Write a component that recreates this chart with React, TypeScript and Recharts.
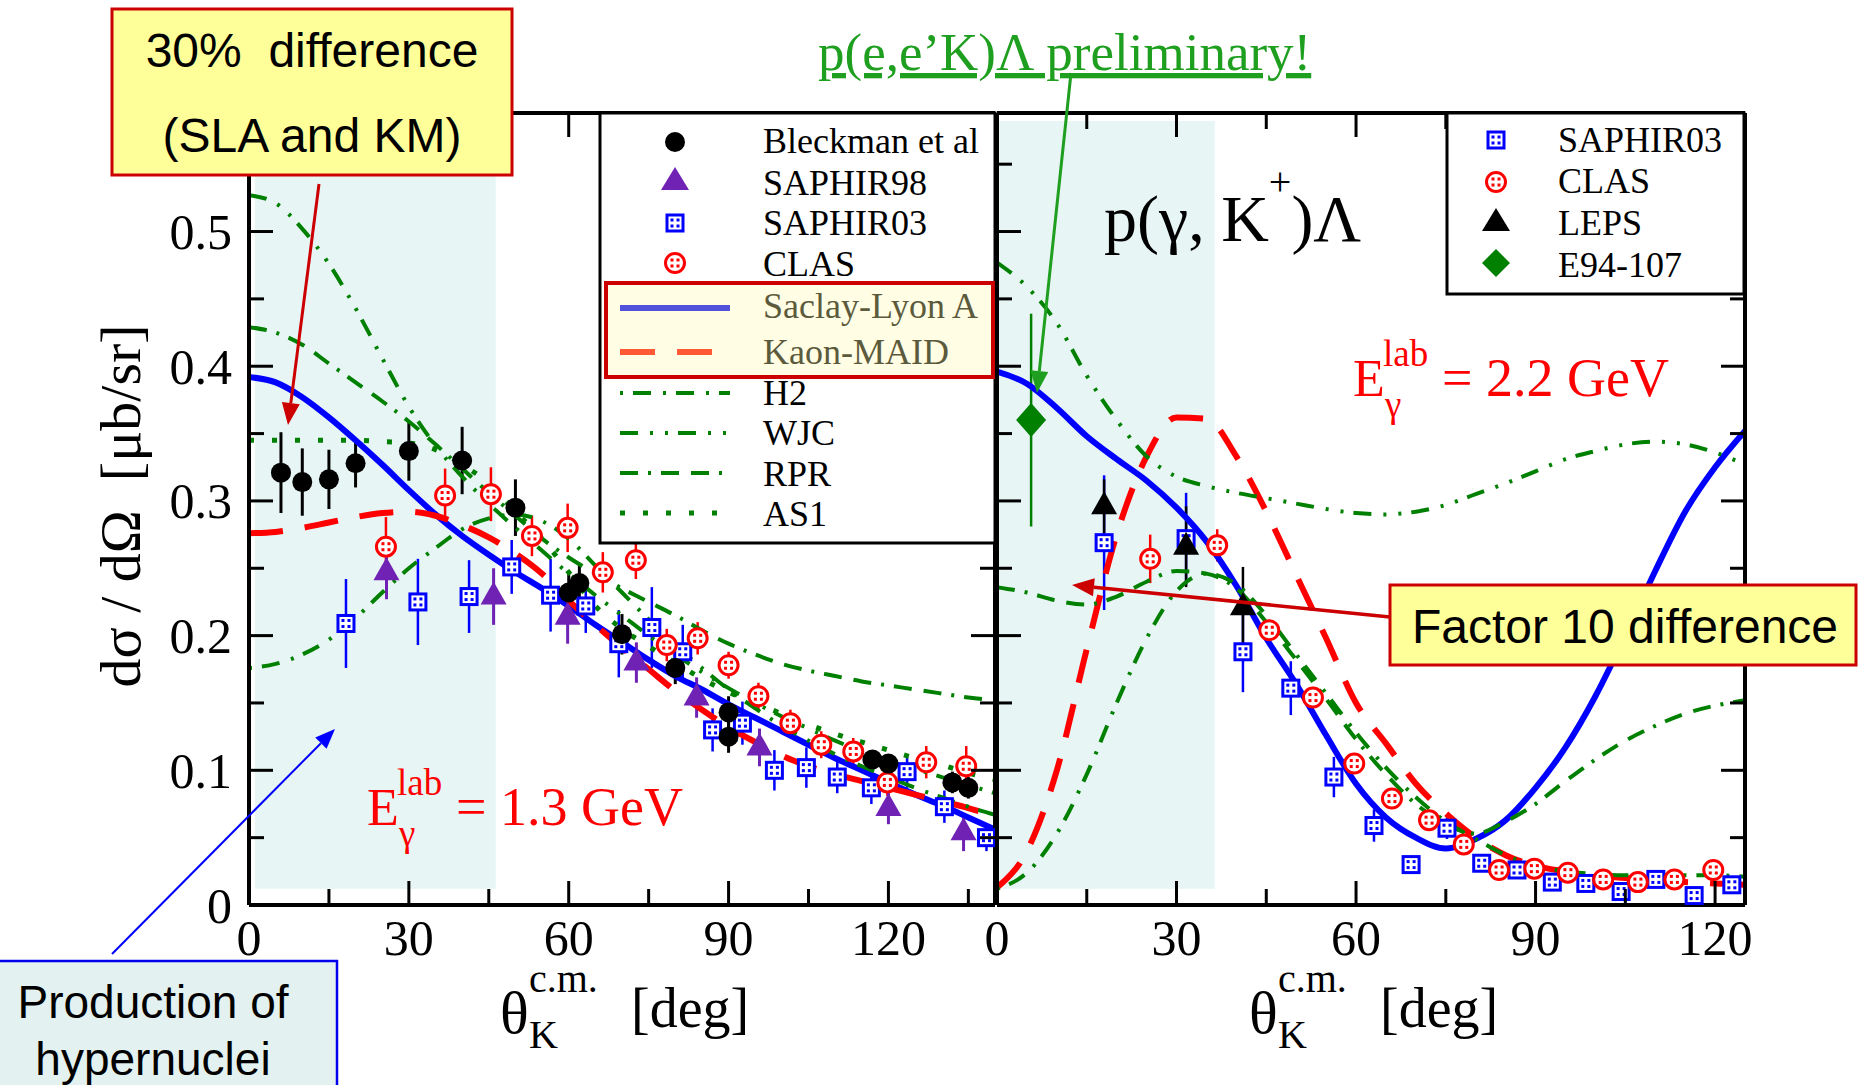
import React from 'react';
import { ComposedChart, Line, Scatter, XAxis, YAxis, ErrorBar, ReferenceArea } from 'recharts';

const SERIF = 'Liberation Serif, Times New Roman, serif';
const SANS = 'Liberation Sans, Arial, sans-serif';

// ---- axes
const Y_TICKS = [0, 0.05, 0.1, 0.15, 0.2, 0.25, 0.3, 0.35, 0.4, 0.45, 0.5, 0.55];
const Y_LABELS = ['0', '0.1', '0.2', '0.3', '0.4', '0.5'];
const X_TICKS_L = [0, 15, 30, 45, 60, 75, 90, 105, 120, 135];
const X_TICKS_R = [0, 15, 30, 45, 60, 75, 90, 105, 120];
const X_LABELS = ['0', '30', '60', '90', '120'];

// ---- left panel, E = 1.3 GeV, model curves
const THETA_L = [0, 5, 10, 15, 20, 25, 30, 35, 40, 45, 50, 55, 60, 65, 70, 75, 80, 85, 90, 95, 100, 105, 110, 115, 120, 125, 130, 135, 140];
const SLA_L = [0.392, 0.388, 0.377, 0.362, 0.345, 0.327, 0.308, 0.29, 0.274, 0.26, 0.247, 0.235, 0.222, 0.208, 0.195, 0.182, 0.17, 0.16, 0.149, 0.139, 0.129, 0.119, 0.109, 0.1, 0.091, 0.082, 0.074, 0.065, 0.056];
const KM_L = [0.276, 0.277, 0.28, 0.284, 0.288, 0.291, 0.292, 0.289, 0.282, 0.273, 0.261, 0.246, 0.226, 0.208, 0.191, 0.175, 0.159, 0.145, 0.132, 0.121, 0.111, 0.103, 0.097, 0.092, 0.087, 0.082, 0.077, 0.072, 0.066];
const H2_L = [0.176, 0.179, 0.186, 0.197, 0.213, 0.232, 0.25, 0.265, 0.279, 0.287, 0.29, 0.285, 0.272, 0.252, 0.232, 0.212, 0.193, 0.176, 0.16, 0.146, 0.133, 0.122, 0.112, 0.103, 0.095, 0.087, 0.08, 0.073, 0.067];
const WJC_L = [0.527, 0.521, 0.502, 0.476, 0.443, 0.406, 0.37, 0.341, 0.318, 0.298, 0.28, 0.263, 0.246, 0.23, 0.215, 0.2, 0.186, 0.173, 0.161, 0.15, 0.14, 0.131, 0.122, 0.114, 0.107, 0.101, 0.095, 0.089, 0.083];
const RPR_L = [0.429, 0.425, 0.416, 0.402, 0.388, 0.374, 0.359, 0.342, 0.324, 0.306, 0.289, 0.272, 0.258, 0.246, 0.235, 0.225, 0.215, 0.204, 0.194, 0.186, 0.179, 0.174, 0.17, 0.166, 0.163, 0.16, 0.157, 0.154, 0.152];
const AS1_L = [0.345, 0.345, 0.345, 0.345, 0.345, 0.344, 0.343, 0.338, 0.327, 0.313, 0.292, 0.272, 0.247, 0.222, 0.205, 0.192, 0.18, 0.168, 0.158, 0.15, 0.142, 0.134, 0.127, 0.121, 0.115, 0.109, 0.104, 0.098, 0.093];

// ---- left panel data
const BLECK_T = [6, 10, 15, 20, 30, 40, 50, 60, 62, 70, 80, 90, 90, 117, 120, 132, 135];
const BLECK_V = [0.321, 0.314, 0.316, 0.328, 0.337, 0.33, 0.295, 0.232, 0.239, 0.201, 0.176, 0.143, 0.125, 0.108, 0.105, 0.091, 0.087];
const BLECK_E = [0.03, 0.025, 0.022, 0.018, 0.022, 0.025, 0.021, 0.015, 0.015, 0.015, 0.012, 0.012, 0.012, 0.006, 0.006, 0.008, 0.008];
const S98_T = [25.8, 45.9, 59.8, 72.7, 84, 95.8, 120, 134.1];
const S98_V = [0.247, 0.229, 0.214, 0.18, 0.154, 0.117, 0.072, 0.054];
const S98_E = [0.02, 0.021, 0.02, 0.015, 0.015, 0.014, 0.012, 0.014];
const S03L_T = [18.2, 31.7, 41.3, 49.3, 56.6, 63.2, 69.4, 75.6, 81.4, 87, 92.6, 98.6, 104.6, 110.4, 116.8, 123.5, 130.5, 138.4];
const S03L_V = [0.209, 0.225, 0.229, 0.251, 0.23, 0.222, 0.194, 0.206, 0.188, 0.13, 0.135, 0.1, 0.102, 0.095, 0.087, 0.099, 0.073, 0.05];
const S03L_E = [0.033, 0.032, 0.027, 0.02, 0.027, 0.02, 0.025, 0.03, 0.02, 0.016, 0.016, 0.015, 0.015, 0.012, 0.012, 0.012, 0.012, 0.01];
const CLASL_T = [25.7, 36.8, 45.4, 53.1, 59.8, 66.4, 72.6, 78.4, 84.2, 90, 95.6, 101.6, 107.4, 113.4, 119.8, 127.1, 134.6];
const CLASL_V = [0.266, 0.304, 0.305, 0.274, 0.28, 0.247, 0.256, 0.193, 0.198, 0.178, 0.155, 0.135, 0.119, 0.114, 0.091, 0.106, 0.103];
const CLASL_E = [0.022, 0.02, 0.02, 0.015, 0.018, 0.015, 0.014, 0.012, 0.012, 0.01, 0.01, 0.01, 0.01, 0.01, 0.01, 0.012, 0.015];

// ---- right panel, E = 2.2 GeV, model curves
const THETA_R = [0, 5, 10, 15, 20, 25, 30, 35, 40, 45, 50, 55, 60, 65, 70, 75, 80, 85, 90, 95, 100, 105, 110, 115, 120, 125];
const SLA_R = [0.396, 0.387, 0.369, 0.348, 0.331, 0.315, 0.295, 0.27, 0.237, 0.198, 0.164, 0.126, 0.09, 0.065, 0.05, 0.042, 0.049, 0.063, 0.087, 0.117, 0.155, 0.2, 0.248, 0.292, 0.325, 0.352];
const KM_R = [0.013, 0.04, 0.1, 0.19, 0.275, 0.333, 0.362, 0.361, 0.333, 0.292, 0.245, 0.198, 0.15, 0.12, 0.09, 0.068, 0.05, 0.037, 0.029, 0.025, 0.022, 0.02, 0.018, 0.017, 0.016, 0.015];
const H2_R = [0.012, 0.024, 0.053, 0.097, 0.15, 0.198, 0.233, 0.246, 0.238, 0.215, 0.186, 0.157, 0.128, 0.102, 0.08, 0.062, 0.049, 0.037, 0.029, 0.025, 0.023, 0.022, 0.022, 0.022, 0.022, 0.021];
const WJC_R = [0.477, 0.459, 0.432, 0.393, 0.36, 0.333, 0.318, 0.311, 0.306, 0.302, 0.298, 0.294, 0.291, 0.29, 0.292, 0.297, 0.305, 0.313, 0.322, 0.331, 0.337, 0.342, 0.344, 0.342, 0.336, 0.327];
const RPR_R = [0.236, 0.232, 0.226, 0.223, 0.229, 0.24, 0.248, 0.246, 0.235, 0.21, 0.182, 0.153, 0.123, 0.097, 0.075, 0.06, 0.053, 0.062, 0.075, 0.092, 0.108, 0.122, 0.133, 0.142, 0.148, 0.152];

// ---- right panel data
const S03R_T = [17.9, 31.6, 41.1, 49.1, 56.3, 63, 69.2, 75.2, 81, 86.9, 92.8, 98.4, 104.3, 110.1, 116.5, 122.8];
const S03R_V = [0.269, 0.272, 0.188, 0.161, 0.095, 0.059, 0.03, 0.057, 0.031, 0.026, 0.017, 0.016, 0.01, 0.019, 0.007, 0.015];
const S03R_E = [0.05, 0.034, 0.03, 0.02, 0.015, 0.012, 0.004, 0.008, 0.005, 0.005, 0.004, 0.004, 0.004, 0.004, 0.004, 0.004];
const CLASR_T = [25.6, 36.8, 45.5, 52.8, 59.7, 66, 72.2, 78, 83.9, 89.8, 95.4, 101.3, 107.1, 113.2, 119.7];
const CLASR_V = [0.257, 0.267, 0.204, 0.154, 0.105, 0.079, 0.063, 0.045, 0.026, 0.027, 0.024, 0.019, 0.017, 0.019, 0.026];
const CLASR_E = [0.018, 0.012, 0.006, 0.006, 0.005, 0.004, 0.004, 0.004, 0.003, 0.003, 0.003, 0.003, 0.003, 0.003, 0.003];
const LEPS_T = [17.9, 31.6, 41.1];
const LEPS_V = [0.296, 0.266, 0.221];
const LEPS_E = [0.02, 0.03, 0.03];
const E94_T = [5.7];
const E94_V = [0.36];
const E94_E = [0.079];

const curve = (t: number[], v: number[]) => t.map((x, i) => ({ x, y: v[i] }));
const pts = (t: number[], v: number[], e: number[]) => t.map((x, i) => ({ x, y: v[i], err: e[i] }));

const GREEN = '#008000';
const GW = 4;
const H2_DASH = '3 10 18 12';
const WJC_DASH = '18 12 3 12 3 10';
const RPR_DASH = '18 10 3 10 18 12';
const AS1_DASH = '5 18';

// ---- marker shapes
const blackDot = (p: any) => <circle cx={p.cx} cy={p.cy} r={10} fill="#000" />;
const triangle = (fill: string) => (p: any) => (
  <polygon points={`${p.cx},${p.cy - 15} ${p.cx + 13},${p.cy + 8} ${p.cx - 13},${p.cy + 8}`} fill={fill} />
);
const sapSquare = (p: any) => (
  <g>
    <rect x={p.cx - 8} y={p.cy - 8} width={16} height={16} fill="#fff" stroke="#0000ff" strokeWidth={3} />
    <rect x={p.cx - 4.5} y={p.cy - 4.5} width={3} height={3} fill="#0000ff" />
    <rect x={p.cx + 1.5} y={p.cy - 4.5} width={3} height={3} fill="#0000ff" />
    <rect x={p.cx - 4.5} y={p.cy + 1.5} width={3} height={3} fill="#0000ff" />
    <rect x={p.cx + 1.5} y={p.cy + 1.5} width={3} height={3} fill="#0000ff" />
  </g>
);
const clasCircle = (p: any) => (
  <g>
    <circle cx={p.cx} cy={p.cy} r={9.5} fill="#fff" stroke="#ff0000" strokeWidth={3} />
    <rect x={p.cx - 4.5} y={p.cy - 4.5} width={3} height={3} fill="#ff0000" />
    <rect x={p.cx + 1.5} y={p.cy - 4.5} width={3} height={3} fill="#ff0000" />
    <rect x={p.cx - 4.5} y={p.cy + 1.5} width={3} height={3} fill="#ff0000" />
    <rect x={p.cx + 1.5} y={p.cy + 1.5} width={3} height={3} fill="#ff0000" />
  </g>
);
const diamond = (p: any) => (
  <polygon points={`${p.cx},${p.cy - 17} ${p.cx + 15},${p.cy} ${p.cx},${p.cy + 17} ${p.cx - 15},${p.cy}`} fill={GREEN} />
);

// ---- inward ticks
const yTick = (dir: number, showLabel: boolean) => (p: any) => {
  const v = p.payload.value as number;
  const major = Math.round(v * 100) % 10 === 0;
  return (
    <g>
      <line x1={p.x} x2={p.x + dir * (major ? 24 : 15)} y1={p.y} y2={p.y} stroke="#000" strokeWidth={3} />
      {showLabel && major && (
        <text x={p.x - 17} y={p.y} dy="0.35em" textAnchor="end" fontSize={50} fontFamily={SERIF} fill="#000">
          {Y_LABELS[Math.round(v * 10)]}
        </text>
      )}
    </g>
  );
};
const xTick = (dir: number, showLabel: boolean) => (p: any) => {
  const v = p.payload.value as number;
  const major = v % 30 === 0;
  return (
    <g>
      <line x1={p.x} x2={p.x} y1={p.y} y2={p.y + dir * (major ? 24 : 16)} stroke="#000" strokeWidth={3} />
      {showLabel && major && (
        <text x={p.x} y={p.y + 50} textAnchor="middle" fontSize={50} fontFamily={SERIF} fill="#000">
          {X_LABELS[v / 30]}
        </text>
      )}
    </g>
  );
};

const AX = { stroke: '#000', strokeWidth: 4 };
const Y_DOMAIN: [number, number] = [0, 0.588];

const Arrow = ({ x1, y1, x2, y2, color, w, head = 22, hw = 9 }: any) => {
  const dx = x2 - x1;
  const dy = y2 - y1;
  const L = Math.hypot(dx, dy);
  const ux = dx / L;
  const uy = dy / L;
  const bx = x2 - ux * head;
  const by = y2 - uy * head;
  return (
    <g>
      <line x1={x1} y1={y1} x2={bx} y2={by} stroke={color} strokeWidth={w} />
      <polygon points={`${x2},${y2} ${bx - uy * hw},${by + ux * hw} ${bx + uy * hw},${by - ux * hw}`} fill={color} />
    </g>
  );
};

const XTitle = ({ x }: { x: number }) => (
  <text x={x} y={1033} fontSize={60} fontFamily={SERIF} fill="#000">
    θ
    <tspan x={x + 29} y={992} fontSize={40}>c.m.</tspan>
    <tspan x={x + 29} y={1048} fontSize={40}>K</tspan>
    <tspan x={x + 131} y={1027} fontSize={56}>[deg]</tspan>
  </text>
);

const Energy = ({ x, y, label }: { x: number; y: number; label: string }) => (
  <text x={x} y={y} fontSize={52} fontFamily={SERIF} fill="#ff0000">
    E
    <tspan x={x + 30} y={y - 30} fontSize={37}>lab</tspan>
    <tspan x={x + 32} y={y + 21} fontSize={37}>γ</tspan>
    <tspan x={x + 89} y={y} fontSize={54}>{label}</tspan>
  </text>
);

export default function App() {
  return (
    <div style={{ position: 'fixed', left: 0, top: 0, width: 1858, height: 1085, background: '#fff', overflow: 'hidden' }}>
      {/* left panel */}
      <div style={{ position: 'absolute', left: 0, top: 0 }}>
        <ComposedChart width={1000} height={1085} margin={{ top: 0, right: 0, bottom: 0, left: 0 }}>
          <XAxis xAxisId={0} dataKey="x" type="number" domain={[0, 140]} allowDataOverflow ticks={X_TICKS_L} interval={0} height={180} tickSize={0} tickMargin={0} tickLine={false} axisLine={AX} tick={xTick(-1, true)} />
          <XAxis xAxisId="top" orientation="top" dataKey="x" type="number" domain={[0, 140]} allowDataOverflow ticks={X_TICKS_L} interval={0} height={113} tickSize={0} tickMargin={0} tickLine={false} axisLine={AX} tick={xTick(1, false)} />
          <YAxis yAxisId={0} dataKey="y" type="number" domain={Y_DOMAIN} allowDataOverflow ticks={Y_TICKS} interval={0} width={249} tickSize={0} tickMargin={0} tickLine={false} axisLine={AX} tick={yTick(1, true)} />
          <YAxis yAxisId="r" orientation="right" dataKey="y" type="number" domain={Y_DOMAIN} allowDataOverflow ticks={Y_TICKS} interval={0} width={5} tickSize={0} tickMargin={0} tickLine={false} axisLine={AX} tick={yTick(-1, false)} />
          <ReferenceArea x1={1.1} x2={46.3} y1={0.012} y2={0.582} fill="#e8f5f5" fillOpacity={1} stroke="none" />
          <Scatter data={pts(S03L_T, S03L_V, S03L_E)} shape={sapSquare} isAnimationActive={false}>
            <ErrorBar dataKey="err" direction="y" width={0} stroke="#0000ff" strokeWidth={2.5} isAnimationActive={false} />
          </Scatter>
          <Scatter data={pts(CLASL_T, CLASL_V, CLASL_E)} shape={clasCircle} isAnimationActive={false}>
            <ErrorBar dataKey="err" direction="y" width={0} stroke="#ff0000" strokeWidth={2.5} isAnimationActive={false} />
          </Scatter>
          <Scatter data={pts(S98_T, S98_V, S98_E)} shape={triangle('#7022b4')} isAnimationActive={false}>
            <ErrorBar dataKey="err" direction="y" width={0} stroke="#7022b4" strokeWidth={3} isAnimationActive={false} />
          </Scatter>
          <Scatter data={pts(BLECK_T, BLECK_V, BLECK_E)} shape={blackDot} isAnimationActive={false}>
            <ErrorBar dataKey="err" direction="y" width={0} stroke="#000" strokeWidth={3} isAnimationActive={false} />
          </Scatter>
          <Line data={curve(THETA_L, SLA_L)} dataKey="y" type="monotone" dot={false} stroke="#0000ff" strokeWidth={6} isAnimationActive={false} />
          <Line data={curve(THETA_L, KM_L)} dataKey="y" type="monotone" dot={false} stroke="#ff0000" strokeWidth={6} strokeDasharray="34 22" isAnimationActive={false} />
          <Line data={curve(THETA_L, H2_L)} dataKey="y" type="monotone" dot={false} stroke={GREEN} strokeWidth={GW} strokeDasharray={H2_DASH} isAnimationActive={false} />
          <Line data={curve(THETA_L, WJC_L)} dataKey="y" type="monotone" dot={false} stroke={GREEN} strokeWidth={GW} strokeDasharray={WJC_DASH} isAnimationActive={false} />
          <Line data={curve(THETA_L, RPR_L)} dataKey="y" type="monotone" dot={false} stroke={GREEN} strokeWidth={GW} strokeDasharray={RPR_DASH} isAnimationActive={false} />
          <Line data={curve(THETA_L, AS1_L)} dataKey="y" type="monotone" dot={false} stroke={GREEN} strokeWidth={5} strokeDasharray={AS1_DASH} isAnimationActive={false} />
        </ComposedChart>
      </div>

      {/* right panel */}
      <div style={{ position: 'absolute', left: 897, top: 0 }}>
        <ComposedChart width={961} height={1085} margin={{ top: 0, right: 0, bottom: 0, left: 0 }}>
          <XAxis xAxisId={0} dataKey="x" type="number" domain={[0, 125]} allowDataOverflow ticks={X_TICKS_R} interval={0} height={180} tickSize={0} tickMargin={0} tickLine={false} axisLine={AX} tick={xTick(-1, true)} />
          <XAxis xAxisId="top" orientation="top" dataKey="x" type="number" domain={[0, 125]} allowDataOverflow ticks={X_TICKS_R} interval={0} height={113} tickSize={0} tickMargin={0} tickLine={false} axisLine={AX} tick={xTick(1, false)} />
          <YAxis yAxisId={0} dataKey="y" type="number" domain={Y_DOMAIN} allowDataOverflow ticks={Y_TICKS} interval={0} width={100} tickSize={0} tickMargin={0} tickLine={false} axisLine={AX} tick={yTick(1, false)} />
          <YAxis yAxisId="r" orientation="right" dataKey="y" type="number" domain={Y_DOMAIN} allowDataOverflow ticks={Y_TICKS} interval={0} width={113} tickSize={0} tickMargin={0} tickLine={false} axisLine={AX} tick={yTick(-1, false)} />
          <ReferenceArea x1={0.2} x2={36.4} y1={0.012} y2={0.582} fill="#e8f5f5" fillOpacity={1} stroke="none" />
          <Scatter data={pts(S03R_T, S03R_V, S03R_E)} shape={sapSquare} isAnimationActive={false}>
            <ErrorBar dataKey="err" direction="y" width={0} stroke="#0000ff" strokeWidth={2.5} isAnimationActive={false} />
          </Scatter>
          <Scatter data={pts(CLASR_T, CLASR_V, CLASR_E)} shape={clasCircle} isAnimationActive={false}>
            <ErrorBar dataKey="err" direction="y" width={0} stroke="#ff0000" strokeWidth={2.5} isAnimationActive={false} />
          </Scatter>
          <Scatter data={pts(LEPS_T, LEPS_V, LEPS_E)} shape={triangle('#000')} isAnimationActive={false}>
            <ErrorBar dataKey="err" direction="y" width={0} stroke="#000" strokeWidth={2.5} isAnimationActive={false} />
          </Scatter>
          <Scatter data={pts(E94_T, E94_V, E94_E)} shape={diamond} isAnimationActive={false}>
            <ErrorBar dataKey="err" direction="y" width={0} stroke={GREEN} strokeWidth={2.5} isAnimationActive={false} />
          </Scatter>
          <Line data={curve(THETA_R, SLA_R)} dataKey="y" type="monotone" dot={false} stroke="#0000ff" strokeWidth={6} isAnimationActive={false} />
          <Line data={curve(THETA_R, KM_R)} dataKey="y" type="monotone" dot={false} stroke="#ff0000" strokeWidth={6} strokeDasharray="34 22" isAnimationActive={false} />
          <Line data={curve(THETA_R, H2_R)} dataKey="y" type="monotone" dot={false} stroke={GREEN} strokeWidth={GW} strokeDasharray={H2_DASH} isAnimationActive={false} />
          <Line data={curve(THETA_R, WJC_R)} dataKey="y" type="monotone" dot={false} stroke={GREEN} strokeWidth={GW} strokeDasharray={WJC_DASH} isAnimationActive={false} />
          <Line data={curve(THETA_R, RPR_R)} dataKey="y" type="monotone" dot={false} stroke={GREEN} strokeWidth={GW} strokeDasharray={RPR_DASH} isAnimationActive={false} />
        </ComposedChart>
      </div>

      {/* titles, legends, annotations */}
      <svg width={1858} height={1085} style={{ position: 'absolute', left: 0, top: 0, pointerEvents: 'none' }}>
        <text x={140} y={506} transform="rotate(-90 140 506)" textAnchor="middle" fontSize={58} fontFamily={SERIF} style={{ whiteSpace: 'pre' }}>
          {'dσ / dΩ  [μb/sr]'}
        </text>
        <XTitle x={500} />
        <XTitle x={1249} />

        {/* left legend */}
        <rect x={600} y={113} width={395} height={430} fill="#fff" stroke="#000" strokeWidth={3} />
        <rect x={606} y={283} width={387} height={94} fill="#fffde3" stroke="#cc0000" strokeWidth={4} />
        <circle cx={675} cy={142} r={10} fill="#000" />
        <polygon points="675,167 689,190 661,190" fill="#7022b4" />
        {sapSquare({ cx: 675, cy: 223 })}
        {clasCircle({ cx: 675, cy: 263 })}
        <line x1={620} x2={730} y1={308} y2={308} stroke="#5151d9" strokeWidth={6} />
        <line x1={620} x2={713} y1={352} y2={352} stroke="#ff5a35" strokeWidth={6} strokeDasharray="35 22" />
        <line x1={620} x2={730} y1={393} y2={393} stroke={GREEN} strokeWidth={GW} strokeDasharray={H2_DASH} />
        <line x1={620} x2={730} y1={433} y2={433} stroke={GREEN} strokeWidth={GW} strokeDasharray={WJC_DASH} />
        <line x1={620} x2={730} y1={473} y2={473} stroke={GREEN} strokeWidth={GW} strokeDasharray={RPR_DASH} />
        <line x1={620} x2={730} y1={513} y2={513} stroke={GREEN} strokeWidth={5} strokeDasharray={AS1_DASH} />
        <g fontFamily={SERIF} fontSize={36} fill="#000">
          <text x={763} y={153}>Bleckman et al</text>
          <text x={763} y={195}>SAPHIR98</text>
          <text x={763} y={235}>SAPHIR03</text>
          <text x={763} y={276}>CLAS</text>
          <text x={763} y={318} fill="#5c5a3c">Saclay-Lyon A</text>
          <text x={763} y={364} fill="#5c5a3c">Kaon-MAID</text>
          <text x={763} y={405}>H2</text>
          <text x={763} y={445}>WJC</text>
          <text x={763} y={486}>RPR</text>
          <text x={763} y={526}>AS1</text>
        </g>

        {/* right legend */}
        <rect x={1447} y={113} width={297} height={181} fill="#fff" stroke="#000" strokeWidth={3} />
        {sapSquare({ cx: 1496, cy: 140 })}
        {clasCircle({ cx: 1496, cy: 182 })}
        <polygon points="1496,208 1510,231 1482,231" fill="#000" />
        <polygon points="1496,249 1510,263 1496,277 1482,263" fill={GREEN} />
        <g fontFamily={SERIF} fontSize={36} fill="#000">
          <text x={1558} y={152}>SAPHIR03</text>
          <text x={1558} y={193}>CLAS</text>
          <text x={1558} y={235}>LEPS</text>
          <text x={1558} y={277}>E94-107</text>
        </g>

        {/* reaction and energy labels */}
        <text x={1104} y={241} fontSize={66} fontFamily={SERIF} fill="#000">
          p(γ, K<tspan dy={-46} fontSize={40}>+</tspan><tspan dy={46} fontSize={66}>)Λ</tspan>
        </text>
        <Energy x={1353} y={396} label="= 2.2 GeV" />
        <Energy x={367} y={825} label="= 1.3 GeV" />

        {/* annotations */}
        <text x={818} y={70} fontSize={53} fontFamily={SERIF} fill="#1f9f1f" style={{ textDecoration: 'underline' }}>
          p(e,e’K)Λ preliminary!
        </text>
        <Arrow x1={1071} y1={73} x2={1037} y2={393} color="#1f9f1f" w={3} />

        <rect x={112} y={9} width={400} height={166} fill="#ffff99" stroke="#cc0000" strokeWidth={3} />
        <g fontFamily={SANS} fontSize={48} fill="#000" textAnchor="middle">
          <text x={312} y={67} style={{ whiteSpace: 'pre' }}>{'30%  difference'}</text>
          <text x={312} y={152}>(SLA and KM)</text>
        </g>
        <Arrow x1={319} y1={184} x2={288} y2={425} color="#cc0000" w={3} />

        <Arrow x1={1390} y1={617} x2={1072} y2={585} color="#cc0000" w={3.5} />
        <rect x={1390} y={585} width={466} height={80} fill="#ffff99" stroke="#cc0000" strokeWidth={3} />
        <text x={1412} y={643} fontSize={48} fontFamily={SANS} fill="#000">Factor 10 difference</text>

        <Arrow x1={112} y1={954} x2={335} y2={729} color="#0000ff" w={2} head={20} hw={8} />
        <rect x={-3} y={961} width={340} height={140} fill="#e3f1f1" stroke="#0000ee" strokeWidth={2.5} />
        <g fontFamily={SANS} fontSize={46} fill="#000" textAnchor="middle">
          <text x={153} y={1018}>Production of</text>
          <text x={153} y={1075}>hypernuclei</text>
        </g>
      </svg>
    </div>
  );
}
